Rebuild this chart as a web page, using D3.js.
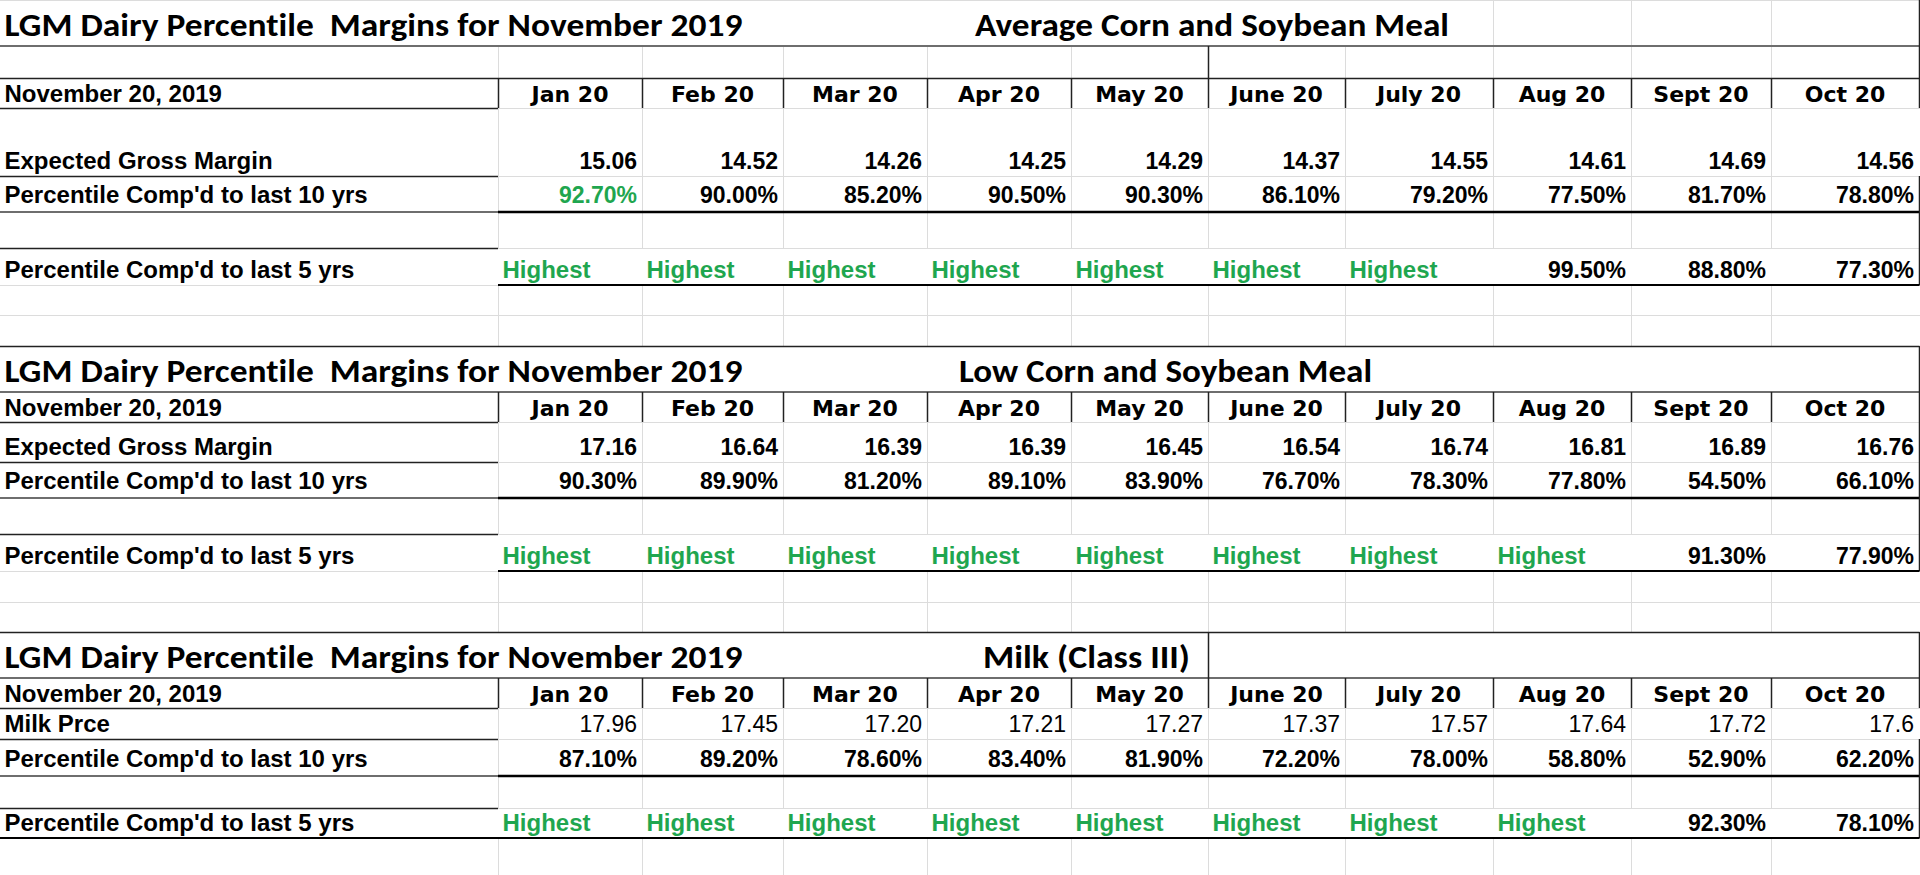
<!DOCTYPE html>
<html>
<head>
<meta charset="utf-8">
<title>LGM Dairy Percentile Margins</title>
<script src="https://cdn.jsdelivr.net/npm/d3@7"></script>
<style>
  body { margin: 0; background: #fff; }
  svg text { white-space: pre; font-variant-ligatures: none; }
</style>
</head>
<body>
<script>
// ---- data ----
const months = ['Jan 20', 'Feb 20', 'Mar 20', 'Apr 20', 'May 20', 'June 20', 'July 20', 'Aug 20', 'Sept 20', 'Oct 20']
const mainTitle = 'LGM Dairy Percentile  Margins for November 2019'
const dateLabel = 'November 20, 2019'
const subtitles = ['Average Corn and Soybean Meal', 'Low Corn and Soybean Meal', 'Milk (Class III)']
const rowLabels = ['Expected Gross Margin', 'Expected Gross Margin', 'Milk Prce']
const pct10Label = "Percentile Comp'd to last 10 yrs"
const pct5Label = "Percentile Comp'd to last 5 yrs"

const avgMargin = [15.06, 14.52, 14.26, 14.25, 14.29, 14.37, 14.55, 14.61, 14.69, 14.56]
const avgPct10 = [92.7, 90.0, 85.2, 90.5, 90.3, 86.1, 79.2, 77.5, 81.7, 78.8]
const avgPct5 = ['Highest', 'Highest', 'Highest', 'Highest', 'Highest', 'Highest', 'Highest', 99.5, 88.8, 77.3]

const lowMargin = [17.16, 16.64, 16.39, 16.39, 16.45, 16.54, 16.74, 16.81, 16.89, 16.76]
const lowPct10 = [90.3, 89.9, 81.2, 89.1, 83.9, 76.7, 78.3, 77.8, 54.5, 66.1]
const lowPct5 = ['Highest', 'Highest', 'Highest', 'Highest', 'Highest', 'Highest', 'Highest', 'Highest', 91.3, 77.9]

const milkPrice = ['17.96', '17.45', '17.20', '17.21', '17.27', '17.37', '17.57', '17.64', '17.72', '17.6']
const milkPct10 = [87.1, 89.2, 78.6, 83.4, 81.9, 72.2, 78.0, 58.8, 52.9, 62.2]
const milkPct5 = ['Highest', 'Highest', 'Highest', 'Highest', 'Highest', 'Highest', 'Highest', 'Highest', 92.3, 78.1]

// ---- sheet layout ----
const W = 1920, H = 875
const colEdges = [0, 498, 642, 783, 927, 1071, 1208, 1345, 1493, 1631, 1771, 1919]
const cols = ['label'].concat(months)
const xLeft = d3.scaleOrdinal().domain(cols).range(colEdges.slice(0, -1))
const xRight = d3.scaleOrdinal().domain(cols).range(colEdges.slice(1))

const GREEN = '#1fa64f'
const GRID = '#dcdcdc'
const DARK = '#222'
const GREY = '#6e6e6e'

const sections = [
    {
        subtitle: subtitles[0], subX: 975, subW: 474, valueLabel: rowLabels[0],
        values: avgMargin, pct10: avgPct10, pct5: avgPct5, greenPct10: [0],
        rows: [['title', 46], ['gap', 32], ['header', 30], ['value', 68], ['pct10', 36], ['blank', 36], ['pct5', 37], ['blank', 30], ['blank', 31]]
    },
    {
        subtitle: subtitles[1], subX: 959, subW: 413, valueLabel: rowLabels[1],
        values: lowMargin, pct10: lowPct10, pct5: lowPct5, greenPct10: [],
        rows: [['title', 46], ['header', 30], ['value', 40], ['pct10', 36], ['blank', 36], ['pct5', 37], ['blank', 31], ['blank', 30]]
    },
    {
        subtitle: subtitles[2], subX: 983, subW: 207, valueLabel: rowLabels[2], plain: true,
        values: milkPrice, pct10: milkPct10, pct5: milkPct5, greenPct10: [],
        rows: [['title', 46], ['header', 30], ['value', 31], ['pct10', 37], ['blank', 32], ['pct5', 30], ['blank', 37]]
    }
]

const baseOffset = { title: 10, header: 6, value: 7, pct10: 9, pct5: 7 }

const fmtNum = d3.format('.2f')
const fmtPct = d => d3.format('.2f')(d) + '%'

const svg = d3.select('body').append('svg')
    .attr('width', W)
    .attr('height', H)
    .style('display', 'block')

svg.append('rect').attr('width', W).attr('height', H).attr('fill', '#fff')

const gGrid = svg.append('g').attr('stroke', GRID).attr('stroke-width', 1)
const gBorder = svg.append('g')
const gText = svg.append('g')

function line(g, x1, y1, x2, y2, color, width) {
    g.append('line')
        .attr('x1', x1).attr('y1', y1).attr('x2', x2).attr('y2', y2)
        .attr('stroke', color).attr('stroke-width', width || 1)
}

const bodyFont = '"Liberation Sans", Arial, sans-serif'
const headFont = '"DejaVu Sans", Verdana, sans-serif'
const titleFont = 'Carlito, Calibri, Lato, sans-serif'

let yCursor = 0
sections.forEach((sec, si) => {
    // row tops inside this section
    const rows = []
    sec.rows.forEach(([kind, h]) => {
        rows.push({ kind: kind, y0: yCursor, y1: yCursor + h })
        yCursor += h
    })
    const row = k => rows.find(r => r.kind === k)

    // light spreadsheet grid
    rows.forEach(r => {
        line(gGrid, 0, r.y1 + 0.5, W, r.y1 + 0.5, GRID)
        if (r.kind === 'pct5') return
        colEdges.slice(1, -1).forEach(x => {
            if (r.kind === 'title' && (si > 0 || x < 1493)) return
            line(gGrid, x + 0.5, r.y0, x + 0.5, r.y1, GRID)
        })
    })
    if (si === 0) line(gGrid, 0, 0.5, W, 0.5, GRID)

    const rt = row('title'), rh = row('header'), rv = row('value'), r10 = row('pct10'), r5 = row('pct5')
    const blankAfter = rows[rows.indexOf(r10) + 1]
    const right = colEdges[colEdges.length - 1] + 0.5

    // title box
    if (si > 0) line(gBorder, 0, rt.y0 + 0.5, right, rt.y0 + 0.5, DARK, 1.5)
    line(gBorder, 0, rt.y1, right, rt.y1, GREY, 2)
    line(gBorder, right, rt.y0, right, rt.y1, DARK, 1.5)
    if (si === 2) line(gBorder, 1208.5, rt.y0, 1208.5, rt.y1, DARK, 1.5)
    if (si === 0) {
        const rg = row('gap')
        line(gBorder, 1208.5, rg.y0, 1208.5, rg.y1, DARK, 1.5)
        line(gBorder, right, rg.y0, right, rg.y1, DARK, 1.5)
        line(gBorder, 0, rh.y0 + 0.5, right, rh.y0 + 0.5, DARK, 1.5)
    }

    // header row
    colEdges.slice(1).forEach(x => line(gBorder, x + 0.5, rh.y0, x + 0.5, rh.y1, DARK, 1.5))
    line(gBorder, 0, rh.y1 + 0.5, xRight('label'), rh.y1 + 0.5, DARK, 1.5)

    // value row
    line(gBorder, 0, rv.y1 + 0.5, xRight('label'), rv.y1 + 0.5, DARK, 1.5)
    if (si === 1) line(gBorder, right, rv.y0, right, rv.y1, DARK, 1.5)

    // 10 yr row and the boxed 5 yr block
    line(gBorder, 0, r10.y1, xRight('label'), r10.y1, GREY, 2)
    line(gBorder, xRight('label'), r10.y1, right, r10.y1, '#000', 2.5)
    line(gBorder, right, r10.y0, right, r10.y1, DARK, 1.5)
    line(gBorder, right, blankAfter.y0, right, r5.y1, DARK, 1.5)
    line(gBorder, 0, r5.y0 + 0.5, xRight('label'), r5.y0 + 0.5, DARK, 1.5)
    line(gBorder, si === 2 ? 0 : xRight('label'), r5.y1, right, r5.y1, '#000', 2)

    // ---- texts ----
    const base = r => r.y1 - baseOffset[r.kind]

    gText.append('text')
        .attr('x', 4.5).attr('y', base(rt))
        .attr('font-family', titleFont).attr('font-weight', 700).attr('font-size', 33)
        .attr('textLength', 738).attr('lengthAdjust', 'spacingAndGlyphs')
        .text(mainTitle)
    gText.append('text')
        .attr('x', sec.subX).attr('y', base(rt))
        .attr('font-family', titleFont).attr('font-weight', 700).attr('font-size', 33)
        .attr('textLength', sec.subW).attr('lengthAdjust', 'spacingAndGlyphs')
        .text(sec.subtitle)

    const labels = [[rh, dateLabel], [rv, sec.valueLabel], [r10, pct10Label], [r5, pct5Label]]
    gText.selectAll(null)
        .data(labels)
        .enter()
        .append('text')
        .attr('x', 4.5)
        .attr('y', d => base(d[0]))
        .attr('font-family', bodyFont).attr('font-weight', 700).attr('font-size', 24)
        .text(d => d[1])

    gText.selectAll(null)
        .data(months)
        .enter()
        .append('text')
        .attr('x', d => (xLeft(d) + xRight(d)) / 2)
        .attr('y', base(rh))
        .attr('text-anchor', 'middle')
        .attr('font-family', headFont).attr('font-weight', 700).attr('font-size', 22)
        .text(d => d)

    gText.selectAll(null)
        .data(sec.values)
        .enter()
        .append('text')
        .attr('x', (d, i) => xRight(months[i]) - 5)
        .attr('y', base(rv))
        .attr('text-anchor', 'end')
        .attr('font-family', bodyFont).attr('font-weight', sec.plain ? 400 : 700).attr('font-size', 23)
        .text(d => sec.plain ? d : fmtNum(d))

    gText.selectAll(null)
        .data(sec.pct10)
        .enter()
        .append('text')
        .attr('x', (d, i) => xRight(months[i]) - 5)
        .attr('y', base(r10))
        .attr('text-anchor', 'end')
        .attr('font-family', bodyFont).attr('font-weight', 700).attr('font-size', 23)
        .attr('fill', (d, i) => sec.greenPct10.includes(i) ? GREEN : '#000')
        .text(fmtPct)

    gText.selectAll(null)
        .data(sec.pct5)
        .enter()
        .append('text')
        .attr('x', (d, i) => typeof d === 'string' ? xLeft(months[i]) + 4.5 : xRight(months[i]) - 5)
        .attr('y', base(r5))
        .attr('text-anchor', d => typeof d === 'string' ? 'start' : 'end')
        .attr('font-family', bodyFont).attr('font-weight', 700)
        .attr('font-size', d => typeof d === 'string' ? 24 : 23)
        .attr('fill', d => typeof d === 'string' ? GREEN : '#000')
        .text(d => typeof d === 'string' ? d : fmtPct(d))
})
</script>
</body>
</html>
